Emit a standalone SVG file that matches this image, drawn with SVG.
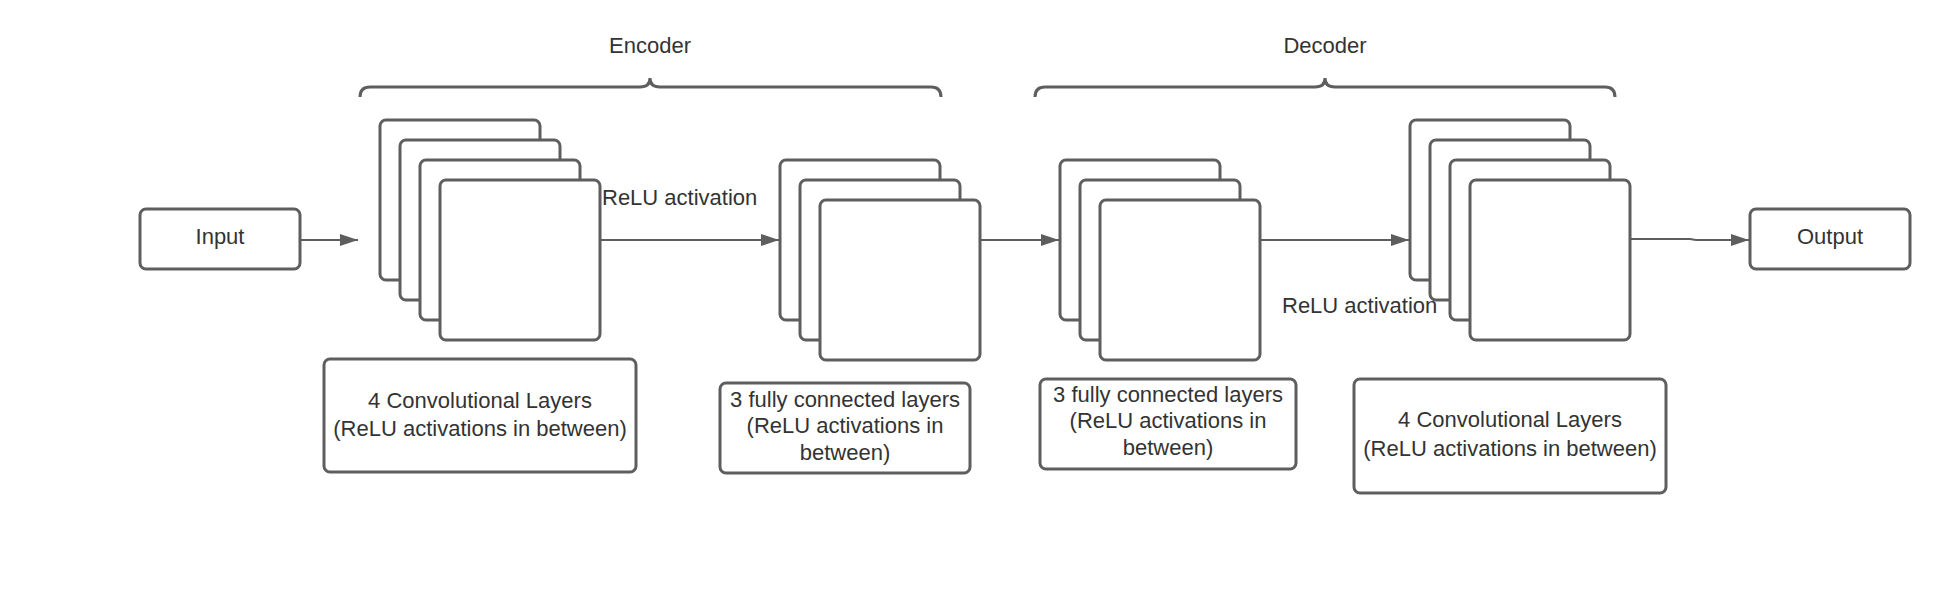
<svg xmlns="http://www.w3.org/2000/svg" width="1954" height="600" viewBox="0 0 1954 600">
  <style>
    .box { fill: #ffffff; stroke: #5e5e5e; stroke-width: 3; }
    .card { fill: #ffffff; stroke: #5e5e5e; stroke-width: 3; }
    .brace { fill: none; stroke: #5e5e5e; stroke-width: 3; }
    .conn { fill: none; stroke: #5e5e5e; stroke-width: 2; }
    text { font-family: "Liberation Sans", Arial, sans-serif; font-size: 22px; fill: #333333; }
    .c { text-anchor: middle; }
  </style>
  <defs>
    <marker id="arrow" markerUnits="userSpaceOnUse" markerWidth="18" markerHeight="12" refX="18" refY="6" orient="auto">
      <path d="M0,0 L18,6 L0,12 z" fill="#5e5e5e"/>
    </marker>
  </defs>
  <rect width="1954" height="600" fill="#ffffff"/>

  <g id="encoder-brace">
    <path class="brace" d="M360,97 Q360,87 370,87 L640,87 Q650,87 650,78 Q650,87 660,87 L931,87 Q941,87 941,97"/>
    <text class="c" x="650" y="53">Encoder</text>
  </g>
  <g id="decoder-brace">
    <path class="brace" d="M1035,97 Q1035,87 1045,87 L1315,87 Q1325,87 1325,78 Q1325,87 1335,87 L1605,87 Q1615,87 1615,97"/>
    <text class="c" x="1325" y="53">Decoder</text>
  </g>

  <g id="connectors">
    <line class="conn" x1="300" y1="240" x2="358" y2="240" marker-end="url(#arrow)"/>
    <line class="conn" x1="600" y1="240" x2="779" y2="240" marker-end="url(#arrow)"/>
    <line class="conn" x1="980" y1="240" x2="1059" y2="240" marker-end="url(#arrow)"/>
    <line class="conn" x1="1260" y1="240" x2="1409" y2="240" marker-end="url(#arrow)"/>
    <path class="conn" d="M1630,239 L1690,239 L1696,240 L1749,240" marker-end="url(#arrow)"/>
  </g>

  <g id="input">
    <rect class="box" x="140" y="209" width="160" height="60" rx="6"/>
    <text class="c" x="220" y="244">Input</text>
  </g>

  <g id="encoder-conv">
    <rect class="card" x="380" y="120" width="160" height="160" rx="6"/>
    <rect class="card" x="400" y="140" width="160" height="160" rx="6"/>
    <rect class="card" x="420" y="160" width="160" height="160" rx="6"/>
    <rect class="card" x="440" y="180" width="160" height="160" rx="6"/>
  </g>

  <g id="relu-label-1">
    <text x="602" y="205">ReLU activation</text>
  </g>

  <g id="encoder-fc">
    <rect class="card" x="780" y="160" width="160" height="160" rx="6"/>
    <rect class="card" x="800" y="180" width="160" height="160" rx="6"/>
    <rect class="card" x="820" y="200" width="160" height="160" rx="6"/>
  </g>

  <g id="decoder-fc">
    <rect class="card" x="1060" y="160" width="160" height="160" rx="6"/>
    <rect class="card" x="1080" y="180" width="160" height="160" rx="6"/>
    <rect class="card" x="1100" y="200" width="160" height="160" rx="6"/>
  </g>

  <g id="decoder-conv">
    <rect class="card" x="1410" y="120" width="160" height="160" rx="6"/>
    <rect class="card" x="1430" y="140" width="160" height="160" rx="6"/>
    <rect class="card" x="1450" y="160" width="160" height="160" rx="6"/>
    <rect class="card" x="1470" y="180" width="160" height="160" rx="6"/>
  </g>

  <g id="relu-label-2">
    <text x="1282" y="313">ReLU activation</text>
  </g>

  <g id="output">
    <rect class="box" x="1750" y="209" width="160" height="60" rx="6"/>
    <text class="c" x="1830" y="244">Output</text>
  </g>

  <g id="label-encoder-conv">
    <rect class="box" x="324" y="359" width="312" height="113" rx="6"/>
    <text class="c" x="480" y="408">4 Convolutional Layers</text>
    <text class="c" x="480" y="436">(ReLU activations in between)</text>
  </g>

  <g id="label-encoder-fc">
    <rect class="box" x="720" y="383" width="250" height="90" rx="6"/>
    <text class="c" x="845" y="407">3 fully connected layers</text>
    <text class="c" x="845" y="433">(ReLU activations in</text>
    <text class="c" x="845" y="460">between)</text>
  </g>

  <g id="label-decoder-fc">
    <rect class="box" x="1040" y="379" width="256" height="90" rx="6"/>
    <text class="c" x="1168" y="402">3 fully connected layers</text>
    <text class="c" x="1168" y="428">(ReLU activations in</text>
    <text class="c" x="1168" y="455">between)</text>
  </g>

  <g id="label-decoder-conv">
    <rect class="box" x="1354" y="379" width="312" height="114" rx="6"/>
    <text class="c" x="1510" y="427">4 Convolutional Layers</text>
    <text class="c" x="1510" y="456">(ReLU activations in between)</text>
  </g>
</svg>
